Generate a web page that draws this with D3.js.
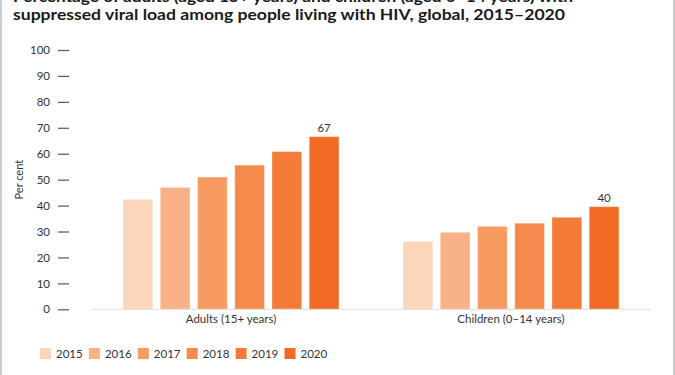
<!DOCTYPE html>
<html>
<head>
<meta charset="utf-8">
<script src="https://cdn.jsdelivr.net/npm/d3@7"></script>
<style>
  body { margin: 0; background: #fff; }
  svg text { font-family: Lato, "Open Sans", sans-serif; }
</style>
</head>
<body>
<svg id="chart" width="675" height="375"></svg>
<script>
// data
const groups = ["Adults (15+ years)", "Children (0–14 years)"];
const years = ["2015", "2016", "2017", "2018", "2019", "2020"];
const adults = [42.4, 47, 51, 55.6, 60.8, 66.6];
const children = [26.2, 29.7, 32, 33.2, 35.5, 39.6];
const yTicks = [0, 10, 20, 30, 40, 50, 60, 70, 80, 90, 100];
const colours = ["#fcd6bb", "#f9b288", "#f79b63", "#f58a4b", "#f47b37", "#f26b25"];

const rows = groups.map((g, i) => ({
  group: g,
  values: years.map((y, j) => ({year: y, value: (i == 0 ? adults : children)[j]}))
}));

let svg = d3.select("#chart");

// frame lines left/right
svg.append("line").attr("x1", 1).attr("x2", 1).attr("y1", 0).attr("y2", 375)
  .attr("stroke", "#bdbdbd").attr("stroke-width", 1.5);
svg.append("line").attr("x1", 674).attr("x2", 674).attr("y1", 0).attr("y2", 375)
  .attr("stroke", "#bdbdbd").attr("stroke-width", 1.5);

// title (first line cut off at top, as in the source)
svg.append("text").attr("x", 13).attr("y", 1.5)
  .attr("font-size", 15).attr("font-weight", "bold").attr("fill", "#1a1a1a")
  .attr("font-family", "'Open Sans', sans-serif")
  .attr("textLength", 560).attr("lengthAdjust", "spacingAndGlyphs")
  .text("Percentage of adults (aged 15+ years) and children (aged 0–14 years) with");
svg.append("text").attr("x", 13).attr("y", 19.5)
  .attr("font-size", 15).attr("font-weight", "bold").attr("fill", "#1a1a1a")
  .attr("font-family", "'Open Sans', sans-serif")
  .attr("textLength", 552).attr("lengthAdjust", "spacingAndGlyphs")
  .text("suppressed viral load among people living with HIV, global, 2015–2020");

let y = d3.scaleLinear().domain([0, 100]).range([309.3, 50]);
let x0 = d3.scaleBand().domain(groups).range([91, 651])
  .paddingInner(0.2286).paddingOuter(0.1143);
let x1 = d3.scaleBand().domain(years).range([0, x0.bandwidth()]).paddingInner(0.2);
let colour = d3.scaleOrdinal().domain(years).range(colours);

// y axis
let yAxis = svg.append("g").attr("transform", "translate(69,0)")
  .call(d3.axisLeft(y).tickValues(yTicks).tickSize(11).tickPadding(8));
yAxis.select(".domain").remove();
yAxis.selectAll(".tick line").attr("stroke", "#555").attr("stroke-width", 1.2);
yAxis.selectAll(".tick text").attr("font-size", 11.5).attr("fill", "#333")
  .attr("font-family", "Lato, sans-serif");

svg.append("text").attr("transform", "translate(23," + (y(50)) + ") rotate(-90)")
  .attr("text-anchor", "middle").attr("font-size", 11).attr("fill", "#333")
  .text("Per cent");

// bars
let g = svg.selectAll("g.grp").data(rows).enter().append("g")
  .attr("class", "grp").attr("transform", d => "translate(" + x0(d.group) + ",0)");

g.selectAll("rect").data(d => d.values).enter().append("rect")
  .attr("x", d => x1(d.year)).attr("width", x1.bandwidth())
  .attr("y", d => y(d.value)).attr("height", d => y(0) - y(d.value))
  .attr("fill", d => colour(d.year))
  .attr("stroke", "#fff").attr("stroke-opacity", 0.35).attr("stroke-width", 1);

// value label on the last bar of each group
g.append("text")
  .attr("x", d => x1(years[years.length - 1]) + x1.bandwidth() / 2)
  .attr("y", d => y(d.values[d.values.length - 1].value) - 5)
  .attr("text-anchor", "middle").attr("font-size", 11.5).attr("fill", "#333")
  .text(d => Math.round(d.values[d.values.length - 1].value));

// baseline
svg.append("line").attr("x1", x0.range()[0]).attr("x2", x0.range()[1])
  .attr("y1", y(0)).attr("y2", y(0)).attr("stroke", "#ddd").attr("stroke-width", 1);

// category labels
svg.selectAll("text.cat").data(groups).enter().append("text").attr("class", "cat")
  .attr("x", d => x0(d) + x0.bandwidth() / 2).attr("y", 323)
  .attr("text-anchor", "middle").attr("font-size", 11.5).attr("fill", "#333")
  .text(d => d);

// legend
let leg = svg.selectAll("g.leg").data(years).enter().append("g").attr("class", "leg")
  .attr("transform", (d, i) => "translate(" + (40 + i * 48.9) + ",348)");
leg.append("rect").attr("width", 11).attr("height", 11).attr("fill", d => colour(d));
leg.append("text").attr("x", 16).attr("y", 9.5).attr("font-size", 11.5).attr("fill", "#333")
  .text(d => d);
</script>
</body>
</html>
